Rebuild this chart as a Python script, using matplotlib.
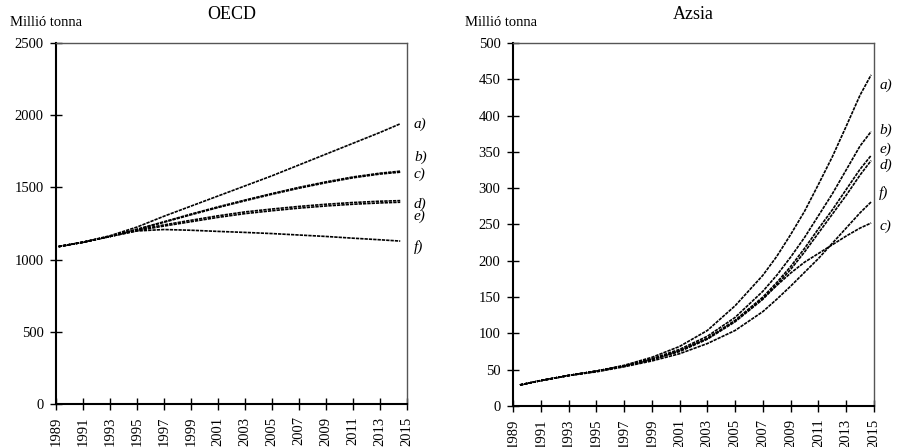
import matplotlib
matplotlib.use('Agg')
import matplotlib.pyplot as plt

plt.rcParams['font.family'] = ['Liberation Serif', 'DejaVu Serif']

# OECD scenarios (million tonnes)
oecd_years = [1989.2, 1991, 1993, 1995, 1997, 1999, 2001, 2003, 2005, 2007, 2009, 2011, 2013, 2014.5]
oecd_a = [1090, 1120, 1165, 1225, 1300, 1370, 1440, 1510, 1580, 1655, 1730, 1805, 1880, 1940]
oecd_b = [1090, 1120, 1160, 1210, 1262, 1315, 1365, 1412, 1457, 1500, 1538, 1572, 1598, 1612]
oecd_c = [1090, 1120, 1160, 1208, 1258, 1310, 1360, 1407, 1452, 1494, 1532, 1566, 1592, 1605]
oecd_d = [1090, 1120, 1160, 1205, 1240, 1272, 1303, 1330, 1350, 1368, 1383, 1395, 1404, 1408]
oecd_e = [1090, 1120, 1160, 1200, 1232, 1262, 1292, 1318, 1338, 1356, 1371, 1383, 1392, 1397]
oecd_f = [1090, 1120, 1160, 1198, 1208, 1203, 1195, 1188, 1180, 1170, 1160, 1148, 1137, 1128]

# Asia scenarios (million tonnes)
asia_years = [1989.5, 1991, 1993, 1995, 1997, 1999, 2001, 2003, 2005, 2007, 2008, 2009, 2010,
              2011, 2012, 2013, 2014, 2014.8]
asia_a = [29, 35, 42, 48, 56, 67, 82, 104, 138, 180, 206, 236, 268, 305, 343, 385, 428, 456]
asia_b = [29, 35, 42, 48, 55, 65, 78, 96, 122, 158, 180, 205, 232, 262, 292, 325, 358, 378]
asia_e = [29, 35, 42, 48, 55, 64, 76, 93, 118, 150, 170, 192, 217, 244, 270, 298, 326, 345]
asia_d = [29, 35, 42, 48, 55, 64, 75, 92, 116, 147, 167, 188, 212, 238, 264, 290, 318, 338]
asia_f = [29, 35, 42, 47, 54, 62, 72, 86, 104, 130, 147, 165, 184, 203, 224, 245, 266, 281]
asia_c = [29, 35, 42, 48, 55, 64, 76, 93, 117, 148, 166, 183, 198, 210, 222, 234, 245, 252]

# label heights at right of each panel
oecd_labels = ['a)', 'b)', 'c)', 'd)', 'e)', 'f)']
oecd_label_y = [1939, 1710, 1593, 1385, 1302, 1087]
asia_labels = ['a)', 'b)', 'e)', 'd)', 'f)', 'c)']
asia_label_y = [441, 380, 353, 331, 293, 248]

year_ticks = list(range(1989, 2016, 2))

fig = plt.figure(figsize=(9, 4.47), dpi=100)
ax1 = fig.add_axes([0.0622, 0.0962, 0.39, 0.8078])
ax2 = fig.add_axes([0.570, 0.0917, 0.401, 0.8123])

line_kw = dict(color='black', lw=1.2, linestyle=(0, (2, 0.6)))


def style_axes(ax, ymax, ystep):
    ax.set_xlim(1989, 2015)
    ax.set_ylim(0, ymax)
    ax.set_xticks(year_ticks)
    ax.set_xticklabels([str(y) for y in year_ticks], rotation=90, fontsize=10.5)
    ax.set_yticks(range(0, ymax + 1, ystep))
    ax.tick_params(axis='y', labelsize=10.5)
    ax.tick_params(direction='inout', length=8, width=1, pad=5)
    for s in ['left', 'bottom']:
        ax.spines[s].set_linewidth(1.5)
        ax.spines[s].set_color('black')
    for s in ['top', 'right']:
        ax.spines[s].set_linewidth(1.0)
        ax.spines[s].set_color('#555555')


for ys in [oecd_a, oecd_b, oecd_c, oecd_d, oecd_e, oecd_f]:
    ax1.plot(oecd_years, ys, **line_kw)
style_axes(ax1, 2500, 500)
for lab, y in zip(oecd_labels, oecd_label_y):
    ax1.text(1.02, y, lab, transform=ax1.get_yaxis_transform(), fontsize=11,
             style='italic', va='center', ha='left')
ax1.set_title('OECD', fontsize=13, pad=17)
fig.text(0.011, 0.95, 'Millió tonna', fontsize=10.5, va='center')

for ys in [asia_a, asia_b, asia_e, asia_d, asia_f, asia_c]:
    ax2.plot(asia_years, ys, **line_kw)
style_axes(ax2, 500, 50)
for lab, y in zip(asia_labels, asia_label_y):
    ax2.text(1.015, y, lab, transform=ax2.get_yaxis_transform(), fontsize=11,
             style='italic', va='center', ha='left')
ax2.set_title('Azsia', fontsize=13, pad=17)
fig.text(0.517, 0.95, 'Millió tonna', fontsize=10.5, va='center')

fig.savefig('out.png', dpi=100)
